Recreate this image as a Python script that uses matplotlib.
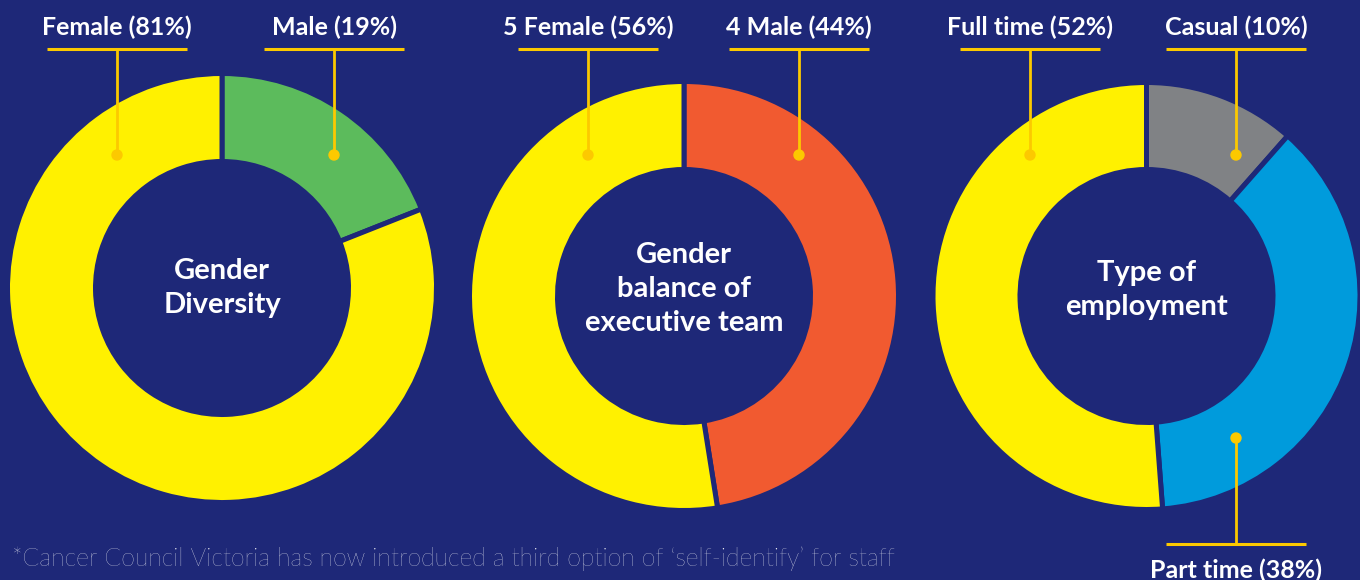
import matplotlib
matplotlib.use('Agg')
import matplotlib.pyplot as plt
from matplotlib.patches import Circle

# data (labels as printed, wedge shares as drawn in the picture)
gender_labels = ['Male (19%)', 'Female (81%)']
gender_values = [19, 81]
exec_labels = ['4 Male (44%)', '5 Female (56%)']
exec_values = [47.5, 52.5]
employ_labels = ['Casual (10%)', 'Part time (38%)', 'Full time (52%)']
employ_values = [11.5, 37.3, 51.2]

titles = ['Gender\nDiversity', 'Gender\nbalance of\nexecutive team', 'Type of\nemployment']
footnote = '*Cancer Council Victoria has now introduced a third option of \u2018self-identify\u2019 for staff'

# styling
W, H = 1360, 580
bg = '#1e2878'
yellow = '#fff100'
gold = '#fcc900'
green = '#5cbb5c'
red = '#f15a30'
grey = '#808285'
blue = '#009bdc'

plt.rcParams['font.family'] = ['Lato', 'DejaVu Sans']

fig = plt.figure(figsize=(W / 100, H / 100), dpi=100, facecolor=bg)
ax = fig.add_axes([0, 0, 1, 1])
ax.set_facecolor(bg)

def Y(y):
	return H - y

gap = 5.0   # px between wedges
lw = gap * 72 / 100

def donut(values, colors, cx, cy, r_out, r_in, title, title_y):
	ax.pie(values, colors=colors, radius=r_out + gap / 2, center=(cx, Y(cy)),
		startangle=90, counterclock=False,
		wedgeprops=dict(width=r_out - r_in + gap, edgecolor=bg, linewidth=lw))
	ax.text(cx, Y(title_y), title, ha='center', va='center', color='white',
		fontsize=21, fontweight='bold', linespacing=1.4)

def callout(label, x, text_base, line_y, dot_y, half=70):
	ax.text(x, Y(text_base), label, ha='center', va='baseline', color='white',
		fontsize=18, fontweight='bold')
	ax.plot([x - half, x + half], [Y(line_y), Y(line_y)], color=gold, lw=2.2,
		solid_capstyle='butt')
	ax.plot([x, x], [Y(line_y), Y(dot_y)], color=gold, lw=2.0)
	ax.add_patch(Circle((x, Y(dot_y)), 5, color=gold, zorder=5))

donut(gender_values, [green, yellow], 222, 288, 212, 129, titles[0], 288)
donut(exec_values, [red, yellow], 684, 296, 212, 129, titles[1], 289)
donut(employ_values, [grey, blue, yellow], 1146.5, 296, 211, 129, titles[2], 290)

callout(gender_labels[1], 117, 35, 49, 155)
callout(gender_labels[0], 334, 35, 49, 155)
callout(exec_labels[1], 588, 35, 49, 155)
callout(exec_labels[0], 799, 35, 49, 155)
callout(employ_labels[2], 1030, 35, 49, 155)
callout(employ_labels[0], 1236, 35, 49, 155)
callout(employ_labels[1], 1236, 578, 544, 438)

ax.text(12, Y(566), footnote, ha='left', va='baseline', color='white',
	fontsize=17.8, fontweight='light')

ax.set_xlim(0, W)
ax.set_ylim(0, H)
ax.set_aspect('equal')
ax.axis('off')

fig.savefig('out.png', dpi=100, facecolor=bg)
